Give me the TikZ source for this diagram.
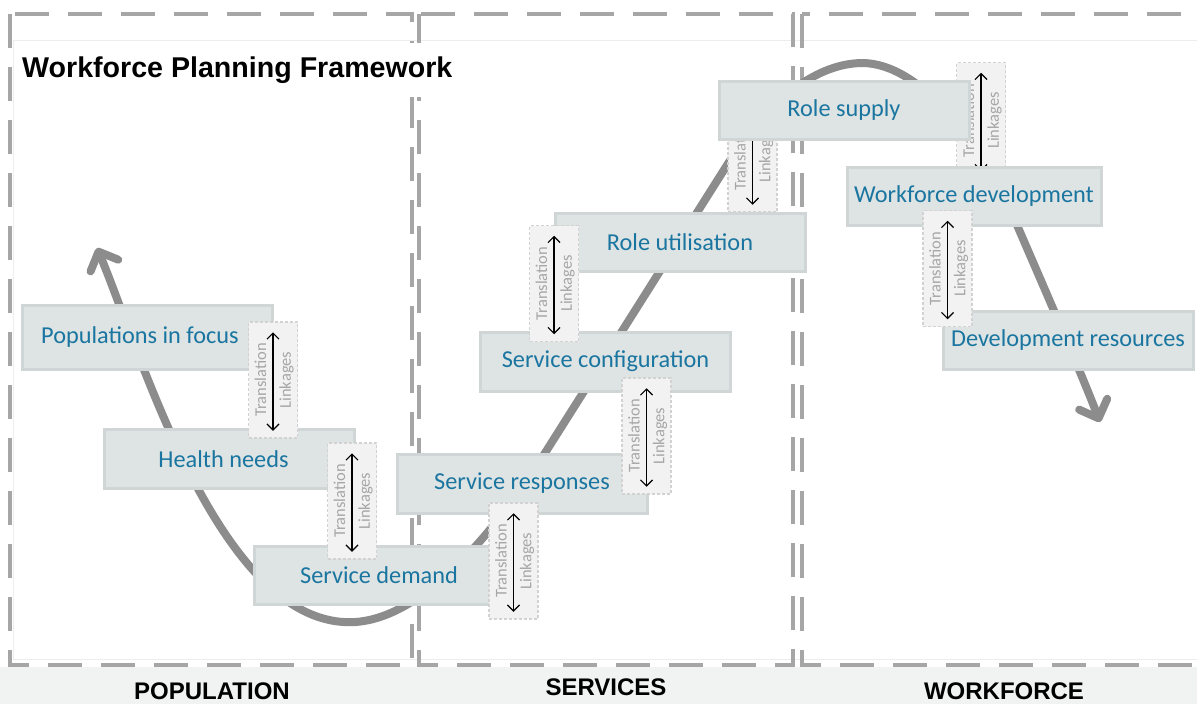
\documentclass[tikz,border=0pt]{standalone}
\usepackage{fontspec}
\setmainfont{Carlito}
\newfontfamily\arialfont{Liberation Sans}
\usetikzlibrary{arrows.meta}
\definecolor{curvegray}{HTML}{8C8C8C}
\definecolor{dashgray}{HTML}{A6A6A6}
\definecolor{boxfill}{HTML}{DEE3E3}
\definecolor{boxline}{HTML}{D0D5D5}
\definecolor{textblue}{HTML}{1A76A0}
\definecolor{tfill}{HTML}{F2F2F2}
\definecolor{tline}{HTML}{D2D2D2}
\definecolor{ttext}{HTML}{A6A6A6}
\definecolor{bandfill}{HTML}{F1F2F2}
\definecolor{faint}{HTML}{EDEDED}
\newcommand\tlink[2]{%
  \node[tbox] (#1) at (#2) {};
  \node[tlabel] (#1t) at ([xshift=-12.5pt]#1.center) {Translation};
  \node[tlabel] (#1l) at ([xshift=13.5pt]#1.center) {Linkages};
  \draw[tarrow] ([yshift=-11pt]#1.north) -- ([yshift=8pt]#1.south);
}
\begin{document}
\begin{tikzpicture}[x=1pt,y=-1pt,
  box/.style={draw=boxline, line width=3pt, fill=boxfill, minimum width=250pt,
    minimum height=59pt, inner sep=2pt, text=textblue, font=\fontsize{24.3}{28}\selectfont},
  padr/.style={execute at end node={\hspace*{#1}}},
  tbox/.style={draw=tline, dash pattern=on 3pt off 2pt, line width=1.5pt, fill=tfill,
    minimum width=49pt, minimum height=116pt, inner sep=0pt},
  tlabel/.style={text=ttext, font=\fontsize{16.5}{18}\selectfont, rotate=90, inner sep=0pt},
  tarrow/.style={{Straight Barb[length=6pt,width=12pt]}-{Straight Barb[length=6pt,width=12pt]}, line width=1.2pt, black},
  coldash/.style={draw=dashgray, line width=4pt, dash pattern=on 34pt off 19pt},
  flowcurve/.style={draw=curvegray, line width=8pt,
    {Straight Barb[length=15pt,width=30pt,round]}-{Straight Barb[length=15pt,width=30pt,round]}},
  colname/.style={font=\arialfont\bfseries\fontsize{24}{28}\selectfont, inner sep=0pt, anchor=base}
]
\useasboundingbox (0,0) rectangle (1197,704);
\fill[white] (0,0) rectangle (1197,704);
% bottom band
\fill[bandfill] (0,667) rectangle (1197,704);
% faint inner frame
\draw[faint, line width=1pt] (13,40) rectangle (1205,659);
% column frames
\draw[coldash] (10,14) rectangle (412,665);
\draw[coldash] (419,14) rectangle (793,665);
\draw[coldash] (802,14) rectangle (1215,665);
% title
\node[anchor=west, fill=white, minimum height=54pt, inner xsep=8pt,
  font=\arialfont\bfseries\fontsize{28.6}{32}\selectfont] (title) at (14,70) {Workforce Planning Framework};
% column names
\node[colname] (cpop) at (212,699) {POPULATION};
\node[colname] (cserv) at (606,695) {SERVICES};
\node[colname] (cwork) at (1004,699) {WORKFORCE};
% the flow curve
\coordinate (cstart) at (97,248);
\coordinate (cend) at (1100,422);
\draw[flowcurve] (cstart) .. controls (140,350) and (220,630) .. (355,622)
  .. controls (420,618) and (490,540) .. (545,453) -- (722,173)
  .. controls (770,95) and (820,63) .. (863,63)
  .. controls (920,64) and (980,140) .. (1017,225)
  .. controls (1045,290) and (1080,370) .. (cend);
% linkages behind boxes
\tlink{t6}{752.5,154}
\tlink{t7}{981,120.5}
% boxes
\node[box, minimum height=64pt, padr=14pt] (pop) at (147,337) {Populations in focus};
\node[box, padr=12pt] (health) at (229.5,459) {Health needs};
\node[box, minimum height=58pt] (demand) at (379,575) {Service demand};
\node[box] (resp) at (522,483.5) {Service responses};
\node[box] (config) at (605.5,361.5) {Service configuration};
\node[box, minimum height=58pt] (util) at (680,242) {Role utilisation};
\node[box, minimum height=58pt] (supply) at (844,110) {Role supply};
\node[box, minimum width=254pt, minimum height=58pt] (wdev) at (974,196) {Workforce development};
\node[box, minimum height=58pt] (dres) at (1068,340) {Development resources};
% linkages on top
\tlink{t1}{273,380}
\tlink{t2}{352,501}
\tlink{t3}{513.5,561}
\tlink{t4}{646.5,436}
\tlink{t5}{554,283.5}
\tlink{t8}{947.5,268.5}
\end{tikzpicture}
\end{document}
